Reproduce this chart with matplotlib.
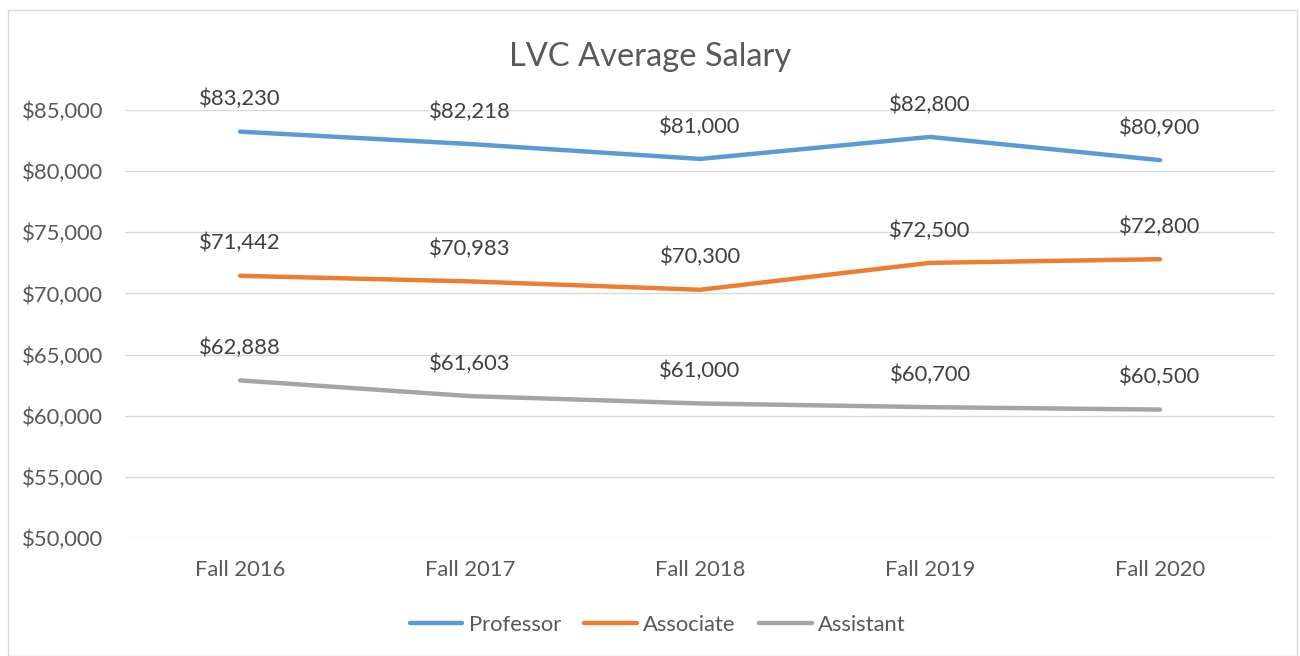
import matplotlib
matplotlib.use("Agg")
import matplotlib.pyplot as plt
from matplotlib.patches import Rectangle

plt.rcParams['font.family'] = ['Lato', 'DejaVu Sans']

categories = ["Fall 2016", "Fall 2017", "Fall 2018", "Fall 2019", "Fall 2020"]
professor = [83230, 82218, 81000, 82800, 80900]
associate = [71442, 70983, 70300, 72500, 72800]
assistant = [62888, 61603, 61000, 60700, 60500]
series_names = ["Professor", "Associate", "Assistant"]
colors = ["#5B9BD5", "#ED7D31", "#A5A5A5"]
yticks = [50000, 55000, 60000, 65000, 70000, 75000, 80000, 85000]

fs = 15.8

fig = plt.figure(figsize=(13, 6.56), dpi=100)
ax = fig.add_axes([0.0962, 0.1799, 0.8846, 0.6524])

x = list(range(len(categories)))
for vals, name, c in zip([professor, associate, assistant], series_names, colors):
    ax.plot(x, vals, color=c, lw=3.2, label=name, solid_capstyle='round', zorder=3)
    for xi, v in zip(x, vals):
        ax.annotate(f"${v:,.0f}", (xi, v), xytext=(0, 16), textcoords='offset points',
                    ha='center', va='bottom', fontsize=fs, color='#404040')

ax.set_xlim(-0.5, len(categories) - 0.5)
ax.set_ylim(50000, 85000)
ax.set_yticks(yticks)
ax.set_yticklabels([f"${t:,.0f}" for t in yticks])
ax.set_xticks(x)
ax.set_xticklabels(categories)
ax.grid(axis='y', color='#D9D9D9', lw=1)
ax.set_axisbelow(True)
for s in ax.spines.values():
    s.set_visible(False)
ax.tick_params(axis='both', length=0, labelsize=fs, labelcolor='#595959')
ax.tick_params(axis='x', pad=16)
ax.tick_params(axis='y', pad=16)

fig.text(0.5, 0.913, "LVC Average Salary", ha='center', va='center', fontsize=23.5, color='#595959')

leg = fig.legend(loc='center', bbox_to_anchor=(0.506, 0.048), ncol=3, frameon=False,
                 fontsize=fs, handlelength=2.4, columnspacing=1.05, handletextpad=0.3)
for t in leg.get_texts():
    t.set_color('#595959')

fig.patches.append(Rectangle((0.006, 0.0), 0.992, 0.985, transform=fig.transFigure,
                             fill=False, edgecolor='#D9D9D9', lw=1))

fig.savefig("out.png", dpi=100)
